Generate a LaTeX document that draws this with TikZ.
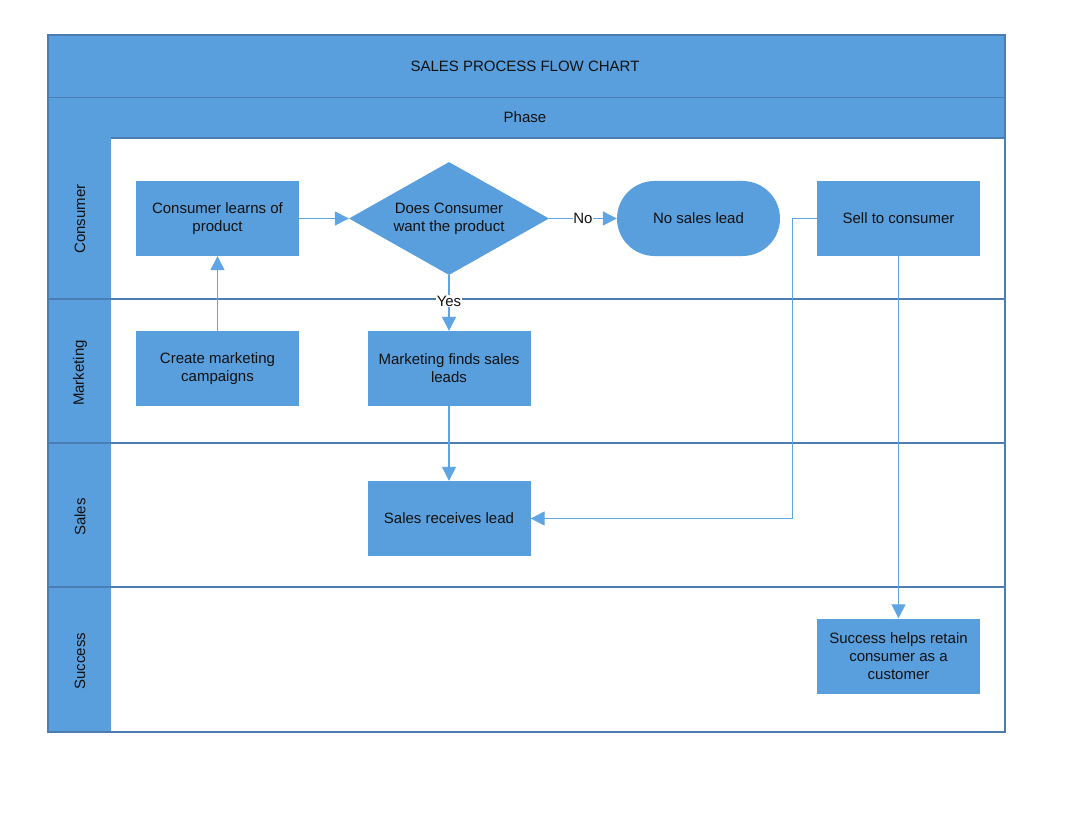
\documentclass[tikz,border=0pt]{standalone}
\usepackage{fontspec}
\setmainfont{Liberation Sans}
\usetikzlibrary{shapes.geometric,shapes.misc,arrows.meta}
\definecolor{boxblue}{HTML}{5A9FDD}
\definecolor{lanebord}{HTML}{4C7DB0}
\definecolor{connblue}{HTML}{5FA5E3}
\definecolor{txt}{HTML}{111111}
\tikzset{
  txtfont/.style={font=\fontsize{15}{18}\selectfont, text=txt},
  proc/.style={rectangle, fill=boxblue, minimum width=163pt, minimum height=75pt, inner sep=0pt, align=center, txtfont},
  dec/.style={diamond, fill=boxblue, minimum width=200pt, minimum height=113pt, aspect=1.77, inner sep=0pt, align=center, txtfont},
  term/.style={rounded rectangle, fill=boxblue, minimum width=163pt, minimum height=75pt, inner sep=0pt, align=center, txtfont},
  conn/.style={draw=connblue, line width=1.3pt, -{Triangle[width=14pt,length=14pt]}},
  lbl/.style={txtfont, fill=white, inner sep=0.5pt},
  lanetxt/.style={rotate=90, txtfont},
  hdr/.style={txtfont}
}
\begin{document}
\begin{tikzpicture}[x=1pt,y=-1pt]
\useasboundingbox (0,0) rectangle (1088,824);
% header and lane column
\fill[boxblue] (48,35) rectangle (1005,138);
\fill[boxblue] (48,138) rectangle (111,732);
\fill[white] (111,138) rectangle (1005,732);
\draw[lanebord, line width=1pt] (48,98) -- (1005,98);
\draw[lanebord, line width=1.2pt] (111,138) -- (1005,138);
\draw[lanebord, line width=1.3pt] (48,299) -- (1005,299);
\draw[lanebord, line width=1.3pt] (48,443) -- (1005,443);
\draw[lanebord, line width=1.3pt] (48,587) -- (1005,587);
\draw[lanebord, line width=1.2pt] (48,35) rectangle (1005,732);
\node[hdr] (title) at (525,66) {SALES PROCESS FLOW CHART};
\node[hdr] (phase) at (525,117) {Phase};
\node[lanetxt] (l1) at (80,219) {Consumer};
\node[lanetxt] (l2) at (80,373) {Marketing};
\node[lanetxt] (l3) at (80,517) {Sales};
\node[lanetxt] (l4) at (80,661) {Success};
% nodes
\node[proc] (learns) at (217.5,218.5) {Consumer learns of\\product};
\node[dec] (want) at (449,218.5) {Does Consumer\\want the product};
\node[term] (nolead) at (698.5,218.5) {No sales lead};
\node[proc] (sell) at (898.5,218.5) {Sell to consumer};
\node[proc] (create) at (217.5,368.5) {Create marketing\\campaigns};
\node[proc] (finds) at (449,368.5) {Marketing finds sales\\leads};
\node[proc] (recv) at (449,518.5) {Sales receives lead};
\node[proc] (succ) at (898.5,656) {Success helps retain\\consumer as a\\customer};
% connectors
\draw[conn] (learns.east) -- (want.west);
\draw[conn] (want.east) -- node[lbl] {No} (nolead.west);
\draw[conn] (want.south) -- (finds.north);
\node[lbl] (yes) at (449,301) {Yes};
\draw[conn] (create.north) -- (learns.south);
\draw[conn] (finds.south) -- (recv.north);
\draw[conn] (sell.west) -- ++(-24,0) |- (recv.east);
\draw[conn] (sell.south) -- (succ.north);
\end{tikzpicture}
\end{document}
